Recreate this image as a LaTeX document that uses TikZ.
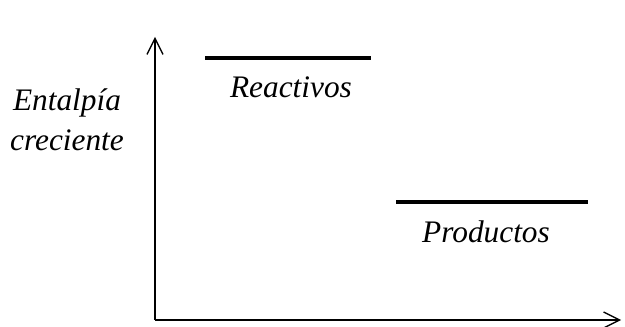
\documentclass[tikz,border=0pt]{standalone}
\usepackage{fontspec}
\setmainfont{Liberation Serif}
\usetikzlibrary{arrows.meta,positioning}

\begin{document}
\begin{tikzpicture}[
  x=0.75pt, y=-0.75pt,
  axis/.style={line width=1.1pt, -{Straight Barb[length=12pt, width=12pt, line width=1pt]}},
  level/.style={line width=3pt},
  lbl/.style={font=\fontsize{23.5}{30}\selectfont\itshape, inner sep=0pt, align=center}
]
\useasboundingbox (0,0) rectangle (625,327);
\coordinate (origin) at (155,320);
\coordinate (ytop) at (155,37);
\coordinate (xend) at (621,320);
\coordinate (r1) at (205,58);
\coordinate (r2) at (371,58);
\coordinate (p1) at (396,202);
\coordinate (p2) at (588,202);

\draw[axis] (origin) -- (ytop);
\draw[axis] (origin) -- (xend);
\draw[level] (r1) -- (r2);
\draw[level] (p1) -- (p2);

\node[lbl] (reactivos) at (291,87) {Reactivos};
\node[lbl] (productos) at (486,232) {Productos};
\node[lbl] (entalpia) at (67,120) {Entalpía\\creciente};
\end{tikzpicture}
\end{document}
